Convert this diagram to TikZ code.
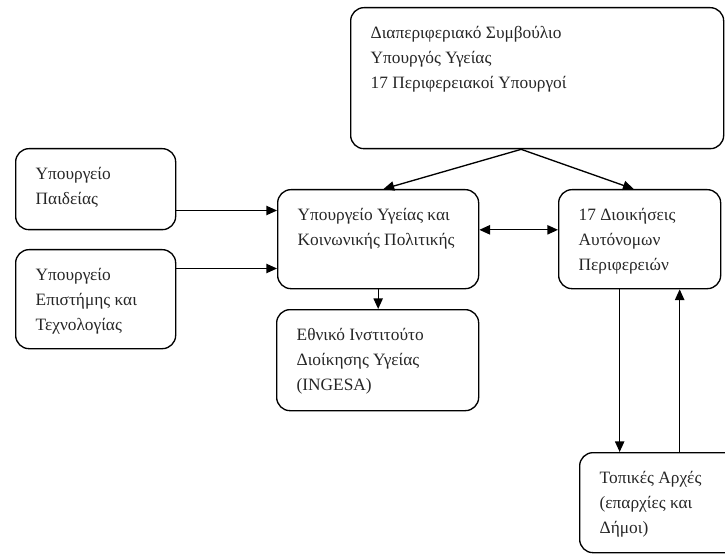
\documentclass[tikz,border=0pt]{standalone}
\usepackage{fontspec}
\setmainfont{Liberation Serif}
\usetikzlibrary{arrows.meta}
\def\boxtxt#1#2#3{\parbox[c][#2][t]{#1}{\raggedright\vspace*{10.5pt}\strut #3}}

\begin{document}
\begin{tikzpicture}[x=0.75pt, y=-0.75pt,
		blk/.style={draw, line width=1pt, rounded corners=10pt, anchor=north west,
			inner xsep=15pt, inner ysep=0pt, text=black!85,
			font=\fontsize{13}{18.5}\selectfont},
		arr/.style={line width=1pt, -{Triangle[length=8pt, width=7pt]}},
		darr/.style={line width=1pt, {Triangle[length=8pt, width=7pt]}-{Triangle[length=8pt, width=7pt]}}]
			%%%%% START %%%%%
			
			\clip (0, 0) rectangle (725, 556);
			
			\node[blk] (council) at (350, 7) {\boxtxt{249.75pt}{105.75pt}{Διαπεριφεριακό Συμβούλιο\\ Υπουργός Υγείας\\ 17 Περιφερειακοί Υπουργοί}};
			
			\node[blk] (paideia) at (15, 148) {\boxtxt{90pt}{60.75pt}{Υπουργείο\\ Παιδείας}};
			\node[blk] (episteme) at (15, 249) {\boxtxt{90pt}{74.25pt}{Υπουργείο\\ Επιστήμης και\\ Τεχνολογίας}};
			
			\node[blk] (ygeia) at (277, 189) {\boxtxt{120.75pt}{74.25pt}{Υπουργείο Υγείας και\\ Κοινωνικής Πολιτικής}};
			\node[blk] (perif) at (558, 189) {\boxtxt{91.5pt}{74.25pt}{17 Διοικήσεις\\ Αυτόνομων\\ Περιφερειών}};
			
			\node[blk] (ingesa) at (276, 309) {\boxtxt{121.5pt}{75.75pt}{Εθνικό Ινστιτούτο\\ Διοίκησης Υγείας\\ (INGESA)}};
			\node[blk] (topikes) at (579, 452) {\boxtxt{100pt}{75pt}{Τοπικές Αρχές\\ (επαρχίες και\\ Δήμοι)}};
			
			% from the council
			\coordinate (split) at ([xshift=-12pt]council.south);
			\draw[arr] (split) -- ([xshift=4pt]ygeia.north);
			\draw[arr] (split) -- ([xshift=-4.5pt]perif.north);
			
			% ministries into health
			\coordinate (p1) at ([yshift=-16pt]paideia.east);
			\coordinate (p2) at ([yshift=23pt]episteme.east);
			\draw[arr] (p1) -- (p1 -| ygeia.west);
			\draw[arr] (p2) -- (p2 -| ygeia.west);
			
			\draw[darr] ([yshift=7pt]ygeia.east) -- ([yshift=7pt]perif.west);
			\draw[arr] (ygeia.south) -- (ygeia.south |- ingesa.north);
			
			% regions and local authorities
			\coordinate (d1) at ([xshift=-15pt]perif.south);
			\coordinate (u1) at ([xshift=30pt]perif.south);
			\draw[arr] (d1) -- (d1 |- topikes.north);
			\draw[arr] (u1 |- topikes.north) -- (u1);
			
			%%%%% END %%%%%
\end{tikzpicture}
\end{document}
